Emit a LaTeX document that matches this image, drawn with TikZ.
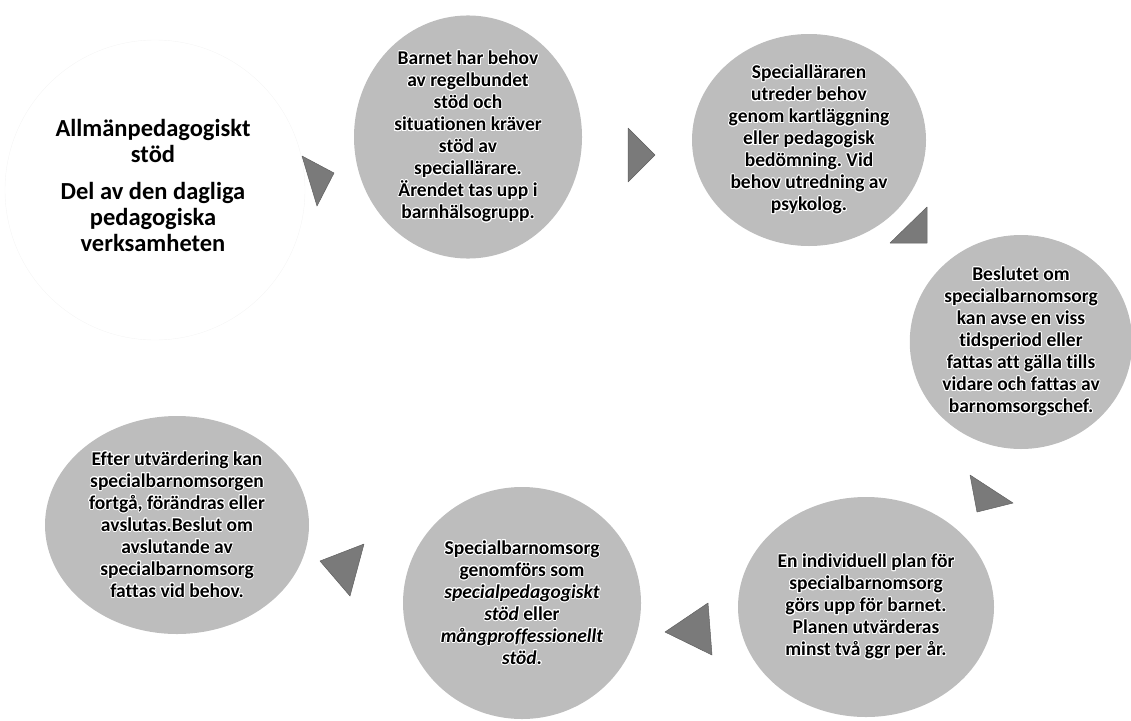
\documentclass[tikz,border=0pt]{standalone}
\usepackage{fontspec}
\setmainfont{Carlito}[Ligatures={NoCommon}]
\usepackage[copies]{contour}
\usetikzlibrary{shapes.geometric}

\contourlength{0.9pt}
\newcommand{\glow}[1]{\contour{white}{#1}}
\frenchspacing

\begin{document}
\begin{tikzpicture}[x=1pt, y=-1pt,
    bubble/.style={ellipse, fill=black!26, inner sep=0pt, align=center,
        font=\fontsize{19.5}{22}\selectfont\bfseries},
    pointer/.style={fill=black!52, draw=black!62, line width=0.5pt, line join=round}]

    \useasboundingbox (0,0) rectangle (1131,720);

    % faint circle behind the first text
    \node (ring) [circle, draw=black!4, minimum size=300pt] at (155,190) {};
    \node (allman) [align=center, font=\fontsize{24.5}{26}\selectfont\bfseries] at (153,185)
        {Allmänpedagogiskt\\stöd\\[11pt]Del av den dagliga\\pedagogiska\\verksamheten};

    % Nodes
    \node (barnet) [bubble, minimum width=228pt, minimum height=224pt] at (468,137)
        {\glow{Barnet har behov}\\\glow{av regelbundet}\\\glow{stöd och}\\\glow{situationen kräver}\\\glow{stöd av}\\\glow{speciallärare.}\\\glow{Ärendet tas upp i}\\\glow{barnhälsogrupp.}};
    \node (utreder) [bubble, minimum width=234pt, minimum height=212pt] at (809,140)
        {\glow{Specialläraren}\\\glow{utreder behov}\\\glow{genom kartläggning}\\\glow{eller pedagogisk}\\\glow{bedömning. Vid}\\\glow{behov utredning av}\\\glow{psykolog.}};
    \node (beslut) [bubble, minimum width=216pt, minimum height=214pt] at (1021,342)
        {\glow{Beslutet om}\\\glow{specialbarnomsorg}\\\glow{kan avse en viss}\\\glow{tidsperiod eller}\\\glow{fattas att gälla tills}\\\glow{vidare och fattas av}\\\glow{barnomsorgschef.}};
    \node (plan) [bubble, minimum width=256pt, minimum height=220pt] at (866,607)
        {\glow{En individuell plan för}\\\glow{specialbarnomsorg}\\\glow{görs upp för barnet.}\\\glow{Planen utvärderas}\\\glow{minst två ggr per år.}};
    \node (genom) [bubble, minimum width=238pt, minimum height=232pt] at (522,603)
        {\glow{Specialbarnomsorg}\\\glow{genomförs som}\\\glow{\itshape specialpedagogiskt}\\\glow{\textit{stöd} eller}\\\glow{\itshape mångproffessionellt}\\\glow{\textit{stöd}.}};
    \node (efter) [bubble, minimum width=264pt, minimum height=218pt] at (177,525)
        {\glow{Efter utvärdering kan}\\\glow{specialbarnomsorgen}\\\glow{fortgå, förändras eller}\\\glow{avslutas.Beslut om}\\\glow{avslutande av}\\\glow{specialbarnomsorg}\\\glow{fattas vid behov.}};

    % Pointers
    \fill[pointer] (302,156) -- (334,173) -- (317,206) -- cycle;
    \fill[pointer] (628,128) -- (655,155) -- (628,182) -- cycle;
    \fill[pointer] (890,243) -- (927,207) -- (927,243) -- cycle;
    \fill[pointer] (970,475) -- (1013,503) -- (977,512) -- cycle;
    \fill[pointer] (665,632) -- (708,603) -- (712,655) -- cycle;
    \fill[pointer] (320,561) -- (364,544) -- (350,596) -- cycle;
\end{tikzpicture}
\end{document}
